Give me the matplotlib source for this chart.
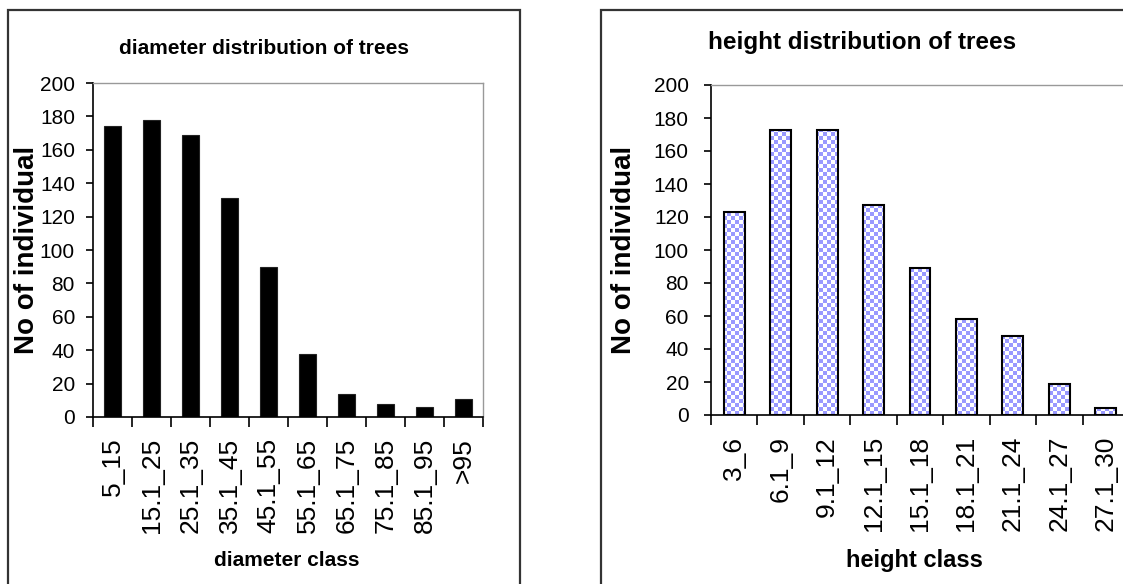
import matplotlib
matplotlib.use("Agg")
import matplotlib.pyplot as plt
import numpy as np
from matplotlib.patches import Rectangle
from matplotlib.ticker import FixedLocator, MultipleLocator

# data
diam_classes = ["5_15", "15.1_25", "25.1_35", "35.1_45", "45.1_55",
                "55.1_65", "65.1_75", "75.1_85", "85.1_95", ">95"]
diam_counts = [174, 178, 169, 131, 90, 38, 14, 8, 6, 11]

height_classes = ["3_6", "6.1_9", "9.1_12", "12.1_15", "15.1_18",
                  "18.1_21", "21.1_24", "24.1_27", "27.1_30"]
height_counts = [123, 173, 173, 127, 89, 58, 48, 19, 4]

ARIAL = ["Liberation Sans", "DejaVu Sans"]

fig = plt.figure(figsize=(11.23, 5.84), dpi=100)
W, H = 1123, 584

# outer chart-area boxes
fig.patches.append(Rectangle((8 / W, -0.05), 512 / W, 1.05 - 10 / H,
                             transform=fig.transFigure, fill=False,
                             edgecolor="#333333", linewidth=1.6))
fig.patches.append(Rectangle((601 / W, -0.05), 0.5, 1.05 - 10 / H,
                             transform=fig.transFigure, fill=False,
                             edgecolor="#333333", linewidth=1.6))


def style_axes(ax, n, labels, ypad):
    ax.set_xlim(-0.5, n - 0.5)
    ax.set_ylim(0, 200)
    for s in ["top", "right"]:
        ax.spines[s].set_color("#999999")
        ax.spines[s].set_linewidth(1.0)
    for s in ["left", "bottom"]:
        ax.spines[s].set_color("black")
        ax.spines[s].set_linewidth(1.2)
    ax.yaxis.set_major_locator(MultipleLocator(20))
    ax.tick_params(axis="y", direction="out", length=5, width=1.2, pad=ypad)
    ax.xaxis.set_major_locator(FixedLocator(np.arange(-0.5, n, 1.0)))
    ax.xaxis.set_minor_locator(FixedLocator(np.arange(n)))
    ax.set_xticklabels([], minor=False)
    ax.set_xticklabels(labels, minor=True, rotation=90, va="top", ha="center",
                       family=ARIAL, fontsize=19)
    ax.tick_params(axis="x", which="major", direction="out", length=7, width=1.2)
    ax.tick_params(axis="x", which="minor", length=0, pad=15)
    for t in ax.get_yticklabels():
        t.set_family(ARIAL)
        t.set_fontsize(15)


# ---- left: diameter
ax1 = fig.add_axes([93 / W, 1 - 417 / H, 390 / W, 334 / H])
x1 = np.arange(len(diam_classes))
ax1.bar(x1, diam_counts, width=0.45, color="black", edgecolor="#222222",
        linewidth=0.8)
style_axes(ax1, len(diam_classes), diam_classes, 8)
ax1.set_ylabel("No of individual", family=ARIAL, fontweight="bold",
               fontsize=20, va="center")
ax1.yaxis.set_label_coords((27 - 93) / 390, 0.5)
ax1.set_xlabel("diameter class", family=ARIAL, fontweight="bold",
               fontsize=15, va="center")
ax1.xaxis.set_label_coords((287 - 93) / 390, (417 - 560) / 334)
fig.text(264 / W, 1 - 48 / H, "diameter distribution of trees", family=ARIAL,
         fontweight="bold", fontsize=15, ha="center", va="center")

# ---- right: height
ax2 = fig.add_axes([711 / W, 1 - 415 / H, 418 / W, 330 / H])
x2 = np.arange(len(height_classes))
under = ax2.bar(x2, height_counts, width=0.45, color="white", edgecolor="none",
                zorder=2)
ax2.set_xlim(-0.5, len(height_classes) - 0.5)
ax2.set_ylim(0, 200)
checker = (np.add.outer(np.arange(83), np.arange(105)) % 2).astype(float)
for b in under:
    im = ax2.imshow(checker, cmap=matplotlib.colors.ListedColormap(["#9999ff", "white"]),
                    extent=(-0.5, len(height_classes) - 0.5, 0, 200),
                    aspect="auto", interpolation="nearest", zorder=2.5,
                    origin="lower")
    im.set_clip_path(b)
ax2.bar(x2, height_counts, width=0.45, facecolor="none", edgecolor="black",
        linewidth=1.5, zorder=3)
style_axes(ax2, len(height_classes), height_classes, 11)
ax2.set_ylabel("No of individual", family=ARIAL, fontweight="bold",
               fontsize=20, va="center")
ax2.yaxis.set_label_coords((624 - 711) / 418, 0.5)
ax2.set_xlabel("height class", family=ARIAL, fontweight="bold",
               fontsize=17, va="center")
ax2.xaxis.set_label_coords((914 - 711) / 418, (415 - 560) / 330)
fig.text(862 / W, 1 - 42 / H, "height distribution of trees", family=ARIAL,
         fontweight="bold", fontsize=17.5, ha="center", va="center")

fig.savefig("out.png", dpi=100)
